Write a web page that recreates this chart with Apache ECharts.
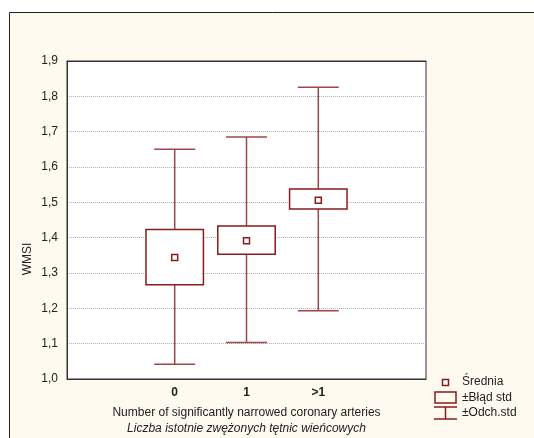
<!DOCTYPE html>
<html>
<head>
<meta charset="utf-8">
<script src="https://cdn.jsdelivr.net/npm/echarts@6/dist/echarts.min.js"></script>
<style>
  html, body { margin: 0; padding: 0; background: #fff; }
  #chart { width: 534px; height: 438px; }
</style>
</head>
<body>
<div id="chart"></div>
<script>
// kategorie (puste sloty po bokach, jak w oryginale)
var categories = ['', '0', '1', '>1', ''];
var groupIndex = [1, 2, 3];
// średnia
var means = [1.344, 1.391, 1.506];
// ±błąd std
var seLow = [1.267, 1.353, 1.481];
var seHigh = [1.423, 1.433, 1.538];
// ±odch. std
var sdLow = [1.042, 1.103, 1.193];
var sdHigh = [1.650, 1.685, 1.826];

var RED = '#8b1a1a';
var WHISK = '#a04448';
var CREAM = '#fefaf0';
var FONT = '"Liberation Sans", Arial, sans-serif';
var FS = 12;

var myChart = echarts.init(document.getElementById('chart'));

var boxData = groupIndex.map(function (c, i) { return [c, seLow[i], seHigh[i]]; });
var whiskData = groupIndex.map(function (c, i) { return [c, sdLow[i], sdHigh[i], seLow[i], seHigh[i]]; });
var meanData = groupIndex.map(function (c, i) { return [c, means[i]]; });

function renderBox(params, api) {
  var x = api.value(0);
  var lo = api.coord([x, api.value(1)]);
  var hi = api.coord([x, api.value(2)]);
  var w = api.size([1, 0])[0] * 0.8;
  return {
    type: 'rect',
    shape: { x: lo[0] - w / 2, y: hi[1], width: w, height: lo[1] - hi[1] },
    style: { fill: '#fff', stroke: RED, lineWidth: 1.5 }
  };
}

function renderWhisker(params, api) {
  var x = api.value(0);
  var lo = api.coord([x, api.value(1)]);
  var hi = api.coord([x, api.value(2)]);
  var bLo = api.coord([x, api.value(3)]);
  var bHi = api.coord([x, api.value(4)]);
  var cw = api.size([1, 0])[0] * 0.57;
  var cx = lo[0];
  var st = { stroke: WHISK, lineWidth: 1.5 };
  return {
    type: 'group',
    children: [
      { type: 'line', shape: { x1: cx, y1: hi[1], x2: cx, y2: bHi[1] }, style: st },
      { type: 'line', shape: { x1: cx, y1: bLo[1], x2: cx, y2: lo[1] }, style: st },
      { type: 'line', shape: { x1: cx - cw / 2, y1: hi[1], x2: cx + cw / 2, y2: hi[1] }, style: st },
      { type: 'line', shape: { x1: cx - cw / 2, y1: lo[1], x2: cx + cw / 2, y2: lo[1] }, style: st }
    ]
  };
}

var txt = { fontFamily: FONT, fontSize: FS, fill: '#222' };

var option = {
  backgroundColor: '#fff',
  animation: false,
  textStyle: { fontFamily: FONT },
  graphic: [
    { type: 'rect', z: -100, silent: true,
      shape: { x: 9.5, y: 12.5, width: 540, height: 440 },
      style: { fill: CREAM, stroke: '#222', lineWidth: 1 } },
    { type: 'text', x: 28, y: 259, rotation: Math.PI / 2,
      style: { text: 'WMSI', fontFamily: FONT, fontSize: FS, fill: '#222', align: 'center', verticalAlign: 'middle' } },
    // legenda
    { type: 'rect', shape: { x: 442.5, y: 379.5, width: 6, height: 6 },
      style: { fill: '#fff', stroke: RED, lineWidth: 1.5 } },
    { type: 'text', x: 462, y: 382, style: Object.assign({ text: 'Średnia', verticalAlign: 'middle' }, txt) },
    { type: 'rect', shape: { x: 435, y: 392, width: 21, height: 11 },
      style: { fill: 'none', stroke: RED, lineWidth: 1.5 } },
    { type: 'text', x: 462, y: 398, style: Object.assign({ text: '±Błąd std', verticalAlign: 'middle' }, txt) },
    { type: 'group', children: [
      { type: 'line', shape: { x1: 434, y1: 407, x2: 457, y2: 407 }, style: { stroke: RED, lineWidth: 1.5 } },
      { type: 'line', shape: { x1: 445.5, y1: 407, x2: 445.5, y2: 419 }, style: { stroke: RED, lineWidth: 1.5 } },
      { type: 'line', shape: { x1: 434, y1: 419, x2: 457, y2: 419 }, style: { stroke: RED, lineWidth: 1.5 } }
    ] },
    { type: 'text', x: 462, y: 413, style: Object.assign({ text: '±Odch.std', verticalAlign: 'middle' }, txt) }
  ],
  grid: {
    left: 67, right: 108, top: 61, bottom: 59,
    outerBoundsMode: 'none',
    containLabel: false,
    show: true, backgroundColor: '#fff', borderColor: '#333', borderWidth: 1
  },
  xAxis: [
    {
      type: 'category',
      data: categories,
      position: 'bottom',
      axisLine: { lineStyle: { color: '#333' } },
      axisTick: { alignWithLabel: true, inside: true, length: 4, lineStyle: { color: '#333' } },
      axisLabel: { color: '#222', fontSize: FS, fontWeight: 'bold', margin: 8, fontFamily: FONT },
      name: '{a|Number of significantly narrowed coronary arteries}\n{b|Liczba istotnie zwężonych tętnic wieńcowych}',
      nameLocation: 'middle',
      nameGap: 26,
      nameTextStyle: {
        lineHeight: 16,
        rich: {
          a: { fontSize: FS, color: '#222', fontFamily: FONT, lineHeight: 16 },
          b: { fontSize: FS, color: '#222', fontFamily: FONT, fontStyle: 'italic', lineHeight: 16 }
        }
      }
    },
    {
      type: 'category',
      data: categories,
      position: 'top',
      axisLine: { lineStyle: { color: '#333' } },
      axisTick: { alignWithLabel: true, inside: true, length: 4, lineStyle: { color: '#333' } },
      axisLabel: { show: false }
    }
  ],
  yAxis: {
    type: 'value',
    min: 1.0, max: 1.9, interval: 0.1,
    axisLine: { show: true, lineStyle: { color: '#333' } },
    axisTick: { show: false },
    axisLabel: {
      color: '#222', fontSize: FS, margin: 9, fontFamily: FONT,
      formatter: function (v) { return v.toFixed(1).replace('.', ','); }
    },
    splitLine: { lineStyle: { color: '#b0b0b0', type: 'dotted' } }
  },
  series: [
    { name: '±Odch.std', type: 'custom', renderItem: renderWhisker, data: whiskData, z: 2,
      encode: { x: 0, y: [1, 2] } },
    { name: '±Błąd std', type: 'custom', renderItem: renderBox, data: boxData, z: 3,
      encode: { x: 0, y: [1, 2] } },
    { name: 'Średnia', type: 'scatter', data: meanData, symbol: 'rect', symbolSize: 6, z: 4,
      itemStyle: { color: '#fff', borderColor: RED, borderWidth: 1.5, opacity: 1 } }
  ]
};

myChart.setOption(option);
</script>
</body>
</html>
